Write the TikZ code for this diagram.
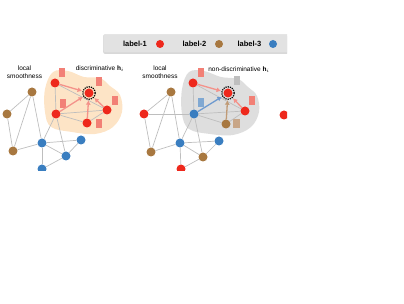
\documentclass[tikz,border=0pt]{standalone}
\usepackage{fontspec}
\setmainfont{Liberation Sans}
\usetikzlibrary{arrows.meta,shadows}

\definecolor{nred}{RGB}{238,40,28}
\definecolor{nbrown}{RGB}{168,120,64}
\definecolor{nblue}{RGB}{58,126,192}
\definecolor{fpink}{RGB}{242,128,118}
\definecolor{fblue}{RGB}{128,168,210}
\definecolor{fbrown}{RGB}{200,166,136}
\definecolor{fgray}{RGB}{190,190,190}
\definecolor{apink}{RGB}{244,146,138}
\definecolor{ablue}{RGB}{110,154,207}
\definecolor{abrown}{RGB}{192,154,117}
\definecolor{peach}{RGB}{253,228,198}
\definecolor{bgray}{RGB}{222,222,222}
\definecolor{egray}{RGB}{190,190,190}
\definecolor{lgray}{RGB}{226,226,226}

\begin{document}
\begin{tikzpicture}[
    x=1pt, y=-1pt,
    font=\fontsize{6.5}{7.8}\selectfont,
    dot/.style={circle, inner sep=0pt, minimum size=9pt},
    rd/.style={dot, fill=nred},
    bd/.style={dot, fill=nbrown},
    ud/.style={dot, fill=nblue},
    feat/.style={inner sep=0pt, minimum width=6pt, minimum height=9pt},
    edge/.style={draw=egray, line width=0.7pt},
    msg/.style={-{Latex[length=4.5pt,width=5pt]}, line width=1.3pt, shorten >=2.5pt},
    legtext/.style={font=\fontsize{7.5}{9}\selectfont\bfseries}
  ]
  \useasboundingbox (0,0) rectangle (404,304);
  \begin{scope}
    \clip (0,0) rectangle (287,170.5);

    \node[fill=lgray, draw=black!15, rounded corners=2pt, drop shadow={shadow xshift=0pt, shadow yshift=-1.5pt, fill=black!30},
      minimum width=200pt, minimum height=18pt, inner sep=0pt, anchor=west] (leg) at (103,43.5) {};
    \node[legtext] (l1) at (135,44) {label-1};
    \node[rd, minimum size=8pt] (l1d) at (160,44) {};
    \node[legtext] (l2) at (194.5,44) {label-2};
    \node[bd, minimum size=8pt] (l2d) at (219,44) {};
    \node[legtext] (l3) at (249.5,44) {label-3};
    \node[ud, minimum size=8pt] (l3d) at (273,44) {};

    \fill[peach] plot[smooth cycle, tension=0.6] coordinates {
      (53,72) (68,71) (84,77) (100,78) (110,86) (120,95) (122,112)
      (113,127) (95,134) (72,132) (51,127) (45,112) (45,89)};
    \fill[bgray] plot[smooth cycle, tension=0.6] coordinates {
      (189,72) (204,71) (221,77) (238,79) (248,87) (257,96) (259,112)
      (251,127) (233,135) (210,134) (189,129) (182,114) (182,89)};

    \node[align=center] (ls) at (24.5,72) {local\\smoothness};
    \node (dh) at (100,69) {discriminative $\mathbf{h}_i$};
    \node[align=center] (mls) at (160,72) {local\\smoothness};
    \node (ndh) at (239,70) {non-discriminative $\mathbf{h}_i$};

    \node[bd] (b1) at (32,92) {};
    \node[bd] (b2) at (7,114) {};
    \node[bd] (b3) at (13,151) {};
    \node[rd] (r1) at (55,83) {};
    \node[rd] (t) at (89,93) {};
    \node[rd] (r2) at (56,114) {};
    \node[rd] (r3) at (107,110) {};
    \node[rd] (r4) at (87,123) {};
    \node[ud] (u1) at (42,143) {};
    \node[ud] (u2) at (81,140) {};
    \node[ud] (u3) at (66,156) {};
    \node[ud] (u4) at (42,169) {};

    \node[feat, fill=fpink] (f1) at (62,73) {};
    \node[feat, fill=fpink] (ft) at (99,82) {};
    \node[feat, fill=fpink] (f2) at (63,104) {};
    \node[feat, fill=fpink] (f3) at (115,101) {};
    \node[feat, fill=fpink] (f4) at (99,124) {};

    \draw[edge] (b1) -- (b2);
    \draw[edge] (b1) -- (b3);
    \draw[edge] (b1) -- (u1);
    \draw[edge] (b2) -- (b3);
    \draw[edge] (b3) -- (u1);
    \draw[edge] (u1) -- (u2);
    \draw[edge] (u1) -- (u3);
    \draw[edge] (u1) -- (u4);
    \draw[edge] (u2) -- (u3);
    \draw[edge] (u3) -- (u4);
    \draw[edge] (r2) -- (u1);
    \draw[edge] (r2) -- (u3);
    \draw[edge] (r1) -- (r2);
    \draw[edge] (r1) -- (r3);
    \draw[edge] (r2) -- (r3);
    \draw[edge] (r2) -- (r4);
    \draw[edge] (r4) -- (r3);

    \draw[msg, apink] (r1) -- (t);
    \draw[msg, apink] (r2) -- (t);
    \draw[msg, apink] (r4) -- (t);
    \draw[msg, apink] (r3) -- (t);
    \draw[densely dotted, line width=1.2pt] (t) circle (6.2pt);

    \node[bd] (mb1) at (171,92) {};
    \node[rd] (mr0) at (144,114) {};
    \node[bd] (mb3) at (151,152) {};
    \node[rd] (mr1) at (193,83) {};
    \node[rd] (mt) at (228,93) {};
    \node[ud] (mu1) at (194,114) {};
    \node[rd] (mr3) at (245,111) {};
    \node[bd] (mbb) at (226,124) {};
    \node[ud] (mu2) at (180,143) {};
    \node[ud] (mu3) at (219,141) {};
    \node[bd] (mb4) at (203,157) {};
    \node[rd] (mr5) at (181,169) {};
    \node[rd] (nr0) at (284,115) {};

    \node[feat, fill=fpink] (mf1) at (201,73) {};
    \node[feat, fill=fgray] (mft) at (237,81) {};
    \node[feat, fill=fblue] (mf2) at (201,103) {};
    \node[feat, fill=fpink] (mf3) at (252,101) {};
    \node[feat, fill=fbrown, minimum width=7pt] (mf4) at (236,124) {};

    \draw[edge] (mb1) -- (mr0);
    \draw[edge] (mb1) -- (mb3);
    \draw[edge] (mb1) -- (mu2);
    \draw[edge] (mr0) -- (mb3);
    \draw[edge] (mr0) -- (mu1);
    \draw[edge] (mb3) -- (mu2);
    \draw[edge] (mu2) -- (mu3);
    \draw[edge] (mu2) -- (mb4);
    \draw[edge] (mu2) -- (mr5);
    \draw[edge] (mu3) -- (mb4);
    \draw[edge] (mb4) -- (mr5);
    \draw[edge] (mu1) -- (mu2);
    \draw[edge] (mu1) -- (mb4);
    \draw[edge] (mr1) -- (mu1);
    \draw[edge] (mr1) -- (mr3);
    \draw[edge] (mu1) -- (mr3);
    \draw[edge] (mu1) -- (mbb);
    \draw[edge] (mbb) -- (mr3);

    \draw[msg, apink] (mr1) -- (mt);
    \draw[msg, ablue] (mu1) -- (mt);
    \draw[msg, abrown] (mbb) -- (mt);
    \draw[msg, apink] (mr3) -- (mt);
    \draw[densely dotted, line width=1.2pt] (mt) circle (6.2pt);
  \end{scope}
\end{tikzpicture}
\end{document}
